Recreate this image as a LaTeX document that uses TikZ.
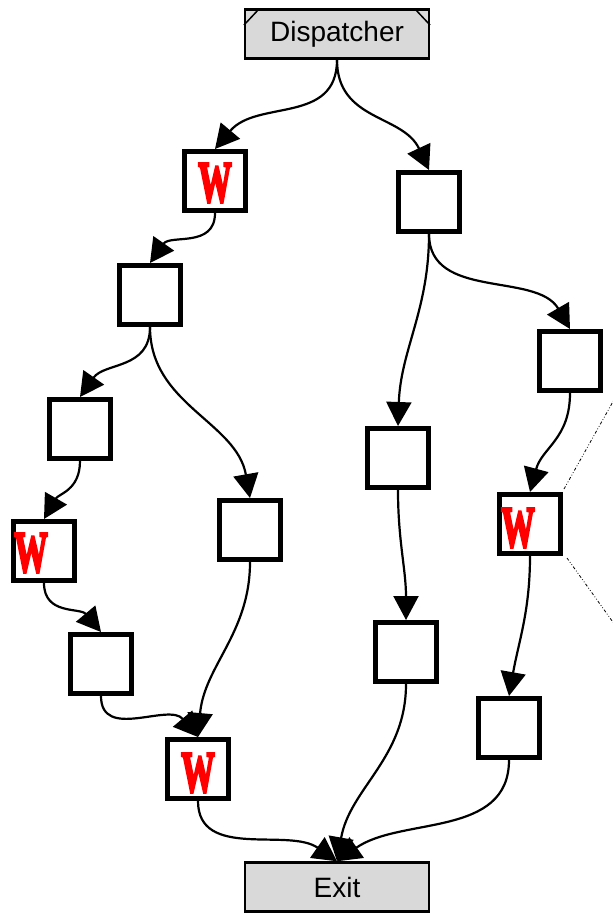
\documentclass[tikz,border=0pt]{standalone}
\usepackage{graphicx}
\usepackage{fontspec}
\setmainfont{Liberation Sans}
\newfontfamily\wfont{Liberation Serif}[BoldFeatures={FakeBold=5}]
\usetikzlibrary{arrows.meta}
\definecolor{boxgray}{HTML}{D9D9D9}
\newcommand{\wmark}{{\wfont\bfseries\fontsize{58}{58}\selectfont\scalebox{0.58}[1]{W}}}
\tikzset{
  task/.style={draw, line width=5pt, fill=white, minimum width=61pt, minimum height=59pt, inner sep=0pt},
  term/.style={draw, line width=2.5pt, fill=boxgray, minimum width=184pt, minimum height=49pt, inner sep=0pt,
    font=\fontsize{28}{32}\selectfont},
  wlabel/.style={text=red, inner sep=0pt},
  edge/.style={line width=2.2pt, -{Triangle[length=24pt,width=25pt]}},
  side/.style={line width=0.8pt, dash dot dot}
}
\begin{document}
\begin{tikzpicture}[x=1pt,y=-1pt]
\useasboundingbox (0,0) rectangle (613,914);

% terminals
\node[term] (disp) at (337,34) {Dispatcher};
\draw[line width=1.5pt] (244,25) -- (259,9);
\draw[line width=1.5pt] (415,9) -- (430,25);
\node[term] (exit) at (337,887) {Exit};

% task boxes
\node[task] (w1) at (215,181) {};
\node[task] (r1) at (429,202) {};
\node[task] (a)  at (150,295) {};
\node[task] (b)  at (80,429) {};
\node[task] (c)  at (250,530) {};
\node[task] (w2) at (44,551) {};
\node[task] (d)  at (101,664) {};
\node[task] (w3) at (198,769) {};
\node[task] (r2) at (570,361) {};
\node[task] (r3) at (398,458) {};
\node[task] (w4) at (530,524) {};
\node[task] (r4) at (406,652) {};
\node[task] (r5) at (509,728) {};

% worker marks
\node[wlabel] (m1) at (215,183) {\wmark};
\node[wlabel] (m2) at (31,553) {\wmark};
\node[wlabel] (m3) at (198,773) {\wmark};
\node[wlabel] (m4) at (518,528) {\wmark};

% side links leaving the frame
\coordinate (s1) at (615,398);
\coordinate (s2) at (615,625);
\draw[side] (w4.north east) ++(1,-3) -- (s1);
\draw[side] (w4.south east) ++(4,2) -- (s2);

% connectors
\draw[edge] (disp.south) to[out=-90,in=50,looseness=1.1] (w1.north);
\draw[edge] (disp.south) to[out=-90,in=115,looseness=1.1] (r1.north);
\draw[edge] (w1.south) to[out=-90,in=55,looseness=1.1] (a.north);
\draw[edge] (r1.south) to[out=-90,in=88,looseness=1] (r3.north);
\draw[edge] (r1.south) to[out=-90,in=120,looseness=1] (r2.north);
\draw[edge] (a.south) to[out=-90,in=55,looseness=1.1] (b.north);
\draw[edge] (a.south) to[out=-90,in=100,looseness=1] (c.north);
\draw[edge] (b.south) to[out=-90,in=60,looseness=1.1] (w2.north);
\draw[edge] (w2.south) to[out=-90,in=130,looseness=1.1] (d.north);
\draw[edge] (d.south) to[out=-90,in=130,looseness=1.1] (w3.north);
\draw[edge] (c.south) to[out=-90,in=85,looseness=1] (w3.north);
\draw[edge] (r3.south) to[out=-90,in=90,looseness=1] (r4.north);
\draw[edge] (r2.south) to[out=-90,in=75,looseness=1.1] (w4.north);
\draw[edge] (w4.south) to[out=-90,in=80,looseness=1] (r5.north);
\draw[edge] (w3.south) to[out=-90,in=145,looseness=1] (exit.north);
\draw[edge] (r4.south) to[out=-90,in=80,looseness=1] (exit.north);
\draw[edge] (r5.south) to[out=-90,in=35,looseness=1] (exit.north);
\end{tikzpicture}
\end{document}
